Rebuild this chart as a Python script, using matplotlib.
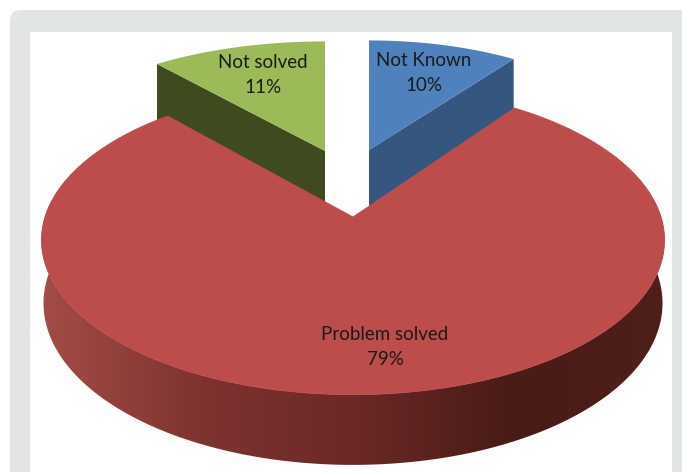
import numpy as np
import matplotlib
matplotlib.use('Agg')
import matplotlib.pyplot as plt
from matplotlib.patches import Polygon, FancyBboxPatch, Rectangle

plt.rcParams['font.family'] = ['Lato', 'DejaVu Sans']

labels = ['Not Known', 'Problem solved', 'Not solved']
values = [10, 79, 11]
top_colors = ['#4F81BD', '#BD4D4A', '#9BBB59']
side_colors = ['#34567F', None, '#3F4A1E']

K = 0.15  # perspective of the tilted pie


def project(angles, cx, cy, rx, ry):
    # angle clockwise from 12 o'clock, degrees
    t = np.radians(angles)
    w = 1 + K * np.cos(t)
    return cx + rx * np.sin(t) / w, cy - ry * np.cos(t) / w


def wedge(a0, a1, cx, cy, rx, ry):
    a = np.linspace(a0, a1, 200)
    x, y = project(a, cx, cy, rx, ry)
    return np.r_[cx, x], np.r_[cy, y]


fig = plt.figure(figsize=(6.82, 4.72), dpi=100)
ax = fig.add_axes([0, 0, 1, 1])
ax.set_xlim(0, 682)
ax.set_ylim(472, 0)
ax.axis('off')

# page panel
ax.add_patch(FancyBboxPatch((10, 10), 720, 520, boxstyle='round,pad=0,rounding_size=11',
                            fc='#E1E5E6', ec='none'))
ax.add_patch(Rectangle((30, 32), 642, 450, fc='white', ec='none'))

edges = np.cumsum([0] + values) * 3.6
a_blue = (edges[0], edges[1])
a_red = (edges[1], edges[2] - 2.4)  # left corner sits a bit lower in the picture
a_green = (edges[2], edges[3])

# blue slice
bx, by = wedge(*a_blue, 369, 150, 276, 126)
x0, y0 = project(a_blue[1], 369, 150, 276, 126)
ax.add_patch(Polygon([(369, 150), (x0, y0), (x0, y0 + 56), (369, 210)], fc=side_colors[0], ec='none'))
ax.add_patch(Polygon(np.c_[bx, by], fc=top_colors[0], ec='none'))

# green slice
gx, gy = wedge(*a_green, 325, 151, 294, 126)
x1, y1 = project(a_green[0], 325, 151, 294, 126)
ax.add_patch(Polygon([(325, 151), (x1, y1), (x1, y1 + 56), (325, 205)], fc=side_colors[2], ec='none'))
ax.add_patch(Polygon(np.c_[gx, gy], fc=top_colors[2], ec='none'))

# red slice, rim first with a left to right shade
a = np.linspace(60, 300, 400)
tx, ty = project(a, 353, 217, 308, 151)
ux, uy = project(a, 353, 279, 306, 158)
rim = Polygon(np.r_[np.c_[tx, ty], np.c_[ux, uy][::-1]], fc='none', ec='none')
ax.add_patch(rim)
shade = np.array([[0.64, 0.30, 0.28], [0.50, 0.20, 0.19], [0.42, 0.16, 0.15],
                  [0.29, 0.11, 0.09], [0.31, 0.12, 0.10]])
stops = np.linspace(0, 1, len(shade))
pos = np.linspace(0, 1, 300)
grad = np.stack([np.interp(pos, stops, shade[:, i]) for i in range(3)], axis=-1)[None, :, :]
im = ax.imshow(grad, extent=(41, 665, 472, 200), aspect='auto', zorder=2)
im.set_clip_path(rim)
ax.set_xlim(0, 682)
ax.set_ylim(472, 0)

rx_, ry_ = wedge(*a_red, 353, 217, 308, 151)
ax.add_patch(Polygon(np.c_[rx_, ry_], fc=top_colors[1], ec=top_colors[1], lw=0.6, zorder=3))

txt = dict(ha='center', va='center', fontsize=13.5, color='#1A1A1A', zorder=4, linespacing=1.6)
ax.text(424, 73, f'{labels[0]}\n{values[0]}%', **txt)
ax.text(385, 347, f'{labels[1]}\n{values[1]}%', **txt)
ax.text(263, 75, f'{labels[2]}\n{values[2]}%', **txt)

fig.savefig('out.png', dpi=100)
